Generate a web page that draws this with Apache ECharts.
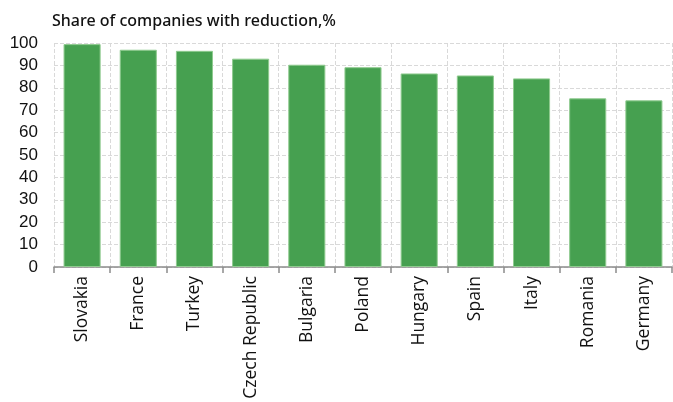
<!DOCTYPE html>
<html>
<head>
<meta charset="utf-8">
<script src="https://cdn.jsdelivr.net/npm/echarts@6/dist/echarts.min.js"></script>
<style>
html, body { margin: 0; padding: 0; background: #fff; }
#chart { width: 673px; height: 402px; }
</style>
</head>
<body>
<div id="chart"></div>
<script>
// data
const countries = ['Slovakia', 'France', 'Turkey', 'Czech Republic', 'Bulgaria', 'Poland',
	'Hungary', 'Spain', 'Italy', 'Romania', 'Germany'];
const shareValues = [99.5, 97, 96.5, 93, 90.3, 89.2, 86.4, 85.5, 84.2, 75.3, 74.4];
const yTicks = [0, 10, 20, 30, 40, 50, 60, 70, 80, 90, 100];

const chart = echarts.init(document.getElementById('chart'));

const option = {
	animation: false,
	title: {
		text: 'Share of companies with reduction,%',
		left: 47,
		top: 8,
		textStyle: {
			fontFamily: 'Noto Sans',
			fontSize: 16,
			fontWeight: 500,
			color: '#111',
		},
	},
	grid: {
		left: 54,
		right: 1,
		top: 43,
		bottom: 135,
		containLabel: false,
		show: false,
	},
	xAxis: {
		type: 'category',
		data: countries,
		axisLine: { show: true, lineStyle: { color: '#8c8c8c', width: 1.5 } },
		axisTick: { show: true, length: 6, lineStyle: { color: '#8c8c8c', width: 1.5 } },
		axisLabel: {
			rotate: 90,
			interval: 0,
			margin: 9,
			fontFamily: 'Open Sans',
			fontSize: 17.5,
			color: '#111',
		},
		splitLine: {
			show: true,
			lineStyle: { color: '#d9d9d9', type: 'dashed' },
		},
	},
	yAxis: {
		type: 'value',
		min: yTicks[0],
		max: yTicks[yTicks.length - 1],
		interval: 10,
		axisLine: { show: false },
		axisTick: { show: false },
		axisLabel: {
			margin: 16,
			fontFamily: 'Liberation Sans',
			fontSize: 17,
			color: '#111',
		},
		splitLine: {
			show: true,
			lineStyle: { color: '#d9d9d9', type: 'dashed' },
		},
	},
	series: [
		{
			type: 'bar',
			data: shareValues,
			barWidth: '66%',
			itemStyle: {
				color: '#46a050',
				borderColor: '#8fcb8f',
				borderWidth: 1,
			},
		},
	],
};

chart.setOption(option);
</script>
</body>
</html>
